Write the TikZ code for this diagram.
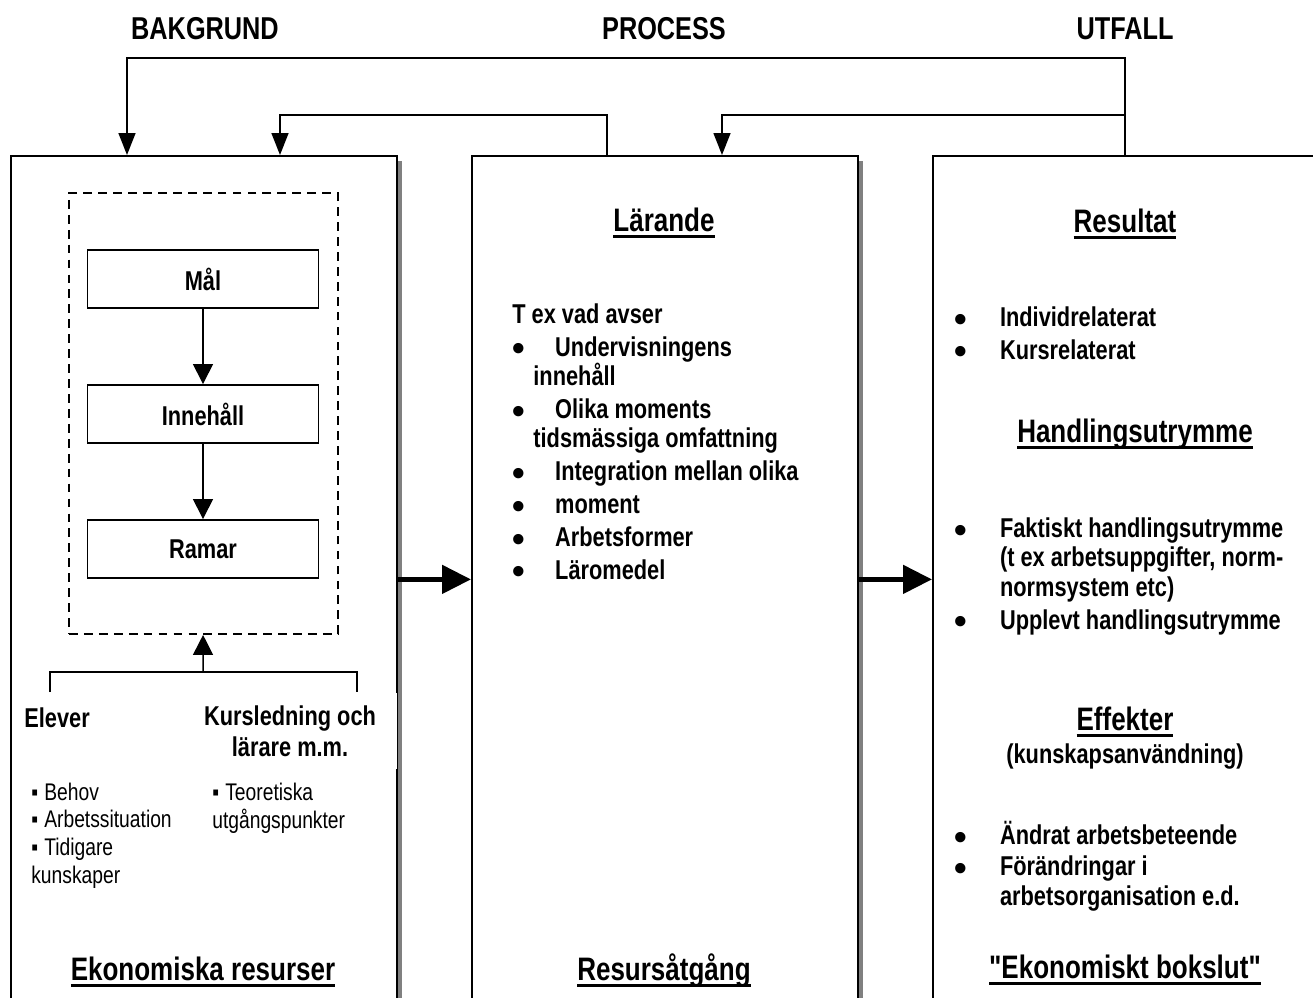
\documentclass[tikz,border=0pt]{standalone}
\usepackage{fontspec}
\setmainfont{Liberation Sans}[FakeStretch=0.8, Ligatures=TeXOff]
\newfontfamily\bulfont{Liberation Sans}
\usepackage{tikz}
\usetikzlibrary{arrows.meta,positioning,shadows}

\newcommand{\blt}[1]{\makebox[#1][l]{\raisebox{-2.8pt}{\bulfont\fontsize{20.5}{20}\selectfont•}}}
\newcommand{\sqb}{\makebox[7.4pt][l]{▪}}
\newcommand{\undl}[1]{\setbox0=\hbox{#1}\rlap{\copy0}\rule[-4pt]{\wd0}{2pt}}

\begin{document}
\begin{tikzpicture}[
  x=0.02cm, y=-0.02cm,
  bigbox/.style={rectangle, draw, line width=1.1pt, fill=white, anchor=north west,
    minimum width=7.72cm, minimum height=16.94cm, inner sep=0pt,
    drop shadow={shadow xshift=0.11cm, shadow yshift=-0.11cm, fill=black!50, opacity=1}},
  stepbox/.style={rectangle, draw, line width=1.1pt, minimum width=4.62cm,
    minimum height=1.16cm, font=\bfseries\fontsize{15.5}{17}\selectfont},
  frame/.style={rectangle, draw, line width=1.1pt, dash pattern=on 5pt off 3.5pt,
    minimum width=5.38cm, minimum height=8.82cm},
  txt/.style={font=\bfseries\fontsize{15.5}{16.7}\selectfont, align=left,
    anchor=base west, inner sep=0pt},
  smalltxt/.style={font=\fontsize{13.7}{15.7}\selectfont, align=left,
    anchor=base west, inner sep=0pt},
  head/.style={font=\bfseries\fontsize{18.5}{20}\selectfont, anchor=base, inner sep=0pt},
  colhead/.style={font=\bfseries\fontsize{18}{20}\selectfont, anchor=base, inner sep=0pt},
  fb/.style={line width=0.85pt, -{Triangle[length=0.44cm, width=0.34cm]}},
  flow/.style={line width=0.85pt, -{Triangle[length=0.4cm, width=0.4cm]}},
  bigarr/.style={line width=2.8pt, -{Triangle[length=0.58cm, width=0.56cm]}}
]
  \useasboundingbox (0,0) rectangle (1313,998);

  % the three columns
  \node[bigbox] (B1) at (10,155) {};
  \node[bigbox] (B2) at (471,155) {};
  \node[bigbox, minimum width=7.76cm] (B3) at (932,155) {};

  \node[colhead] (bak) at (205,39) {BAKGRUND};
  \node[colhead] (proc) at (664,39) {PROCESS};
  \node[colhead] (utf) at (1125,39) {UTFALL};

  % feedback lines
  \coordinate (lvA) at (0,58);
  \coordinate (lvB) at (0,115);
  \coordinate (u1) at (1125,155);
  \coordinate (p1) at (607,155);
  \coordinate (b1) at (127,155);
  \coordinate (b2) at (280,155);
  \coordinate (p2) at (722,155);
  \draw[fb] (u1) -- (u1 |- lvA) -| (b1);
  \draw[fb] (p1) -- (p1 |- lvB) -| (b2);
  \draw[fb] (u1 |- lvB) -| (p2);

  \draw[bigarr] (B1.east) -- (B2.west);
  \draw[bigarr] (B2.east) -- (B3.west);

  % bakgrund
  \node[frame] (ramverk) at (203.5,413.5) {};
  \node[stepbox] (mal) at (203,279) {Mål};
  \node[stepbox] (inneh) at (203,414) {Innehåll};
  \node[stepbox] (ramar) at (203,549) {Ramar};
  \draw[flow] (mal) -- (inneh);
  \draw[flow] (inneh) -- (ramar);

  \coordinate (elv) at (50,692);
  \coordinate (krs) at (357,692);
  \coordinate (brm) at (203,672);
  \draw[line width=0.85pt] (elv) |- (brm) -| (krs);
  \draw[flow] (brm) -- (ramverk);

  \node[txt] (elever) at (24,727) {Elever};
  \node[fill=white, align=center, inner sep=0pt, minimum width=4.28cm, minimum height=1.52cm,
    font=\bfseries\fontsize{15.5}{17.5}\selectfont] (kursl) at (290,731) {Kursledning och\\lärare m.m.};
  \node[smalltxt] (elevlist) at (31,883) {\sqb Behov\\\sqb Arbetssituation\\\sqb Tidigare\\kunskaper};
  \node[smalltxt] (kurslist) at (212,828) {\sqb Teoretiska\\utgångspunkter};
  \node[head] (ekres) at (203,980) {\undl{Ekonomiska resurser}};

  % process
  \node[head] (lar) at (664,231) {\undl{Lärande}};
  \node[txt] (larlist) at (512,579) {T ex vad avser\\[2pt]
    \blt{24.4pt}Undervisningens\\
    \hspace*{12pt}innehåll\\[2pt]
    \blt{24.4pt}Olika moments\\
    \hspace*{12pt}tidsmässiga omfattning\\[2pt]
    \blt{24.4pt}Integration mellan olika\\[2pt]
    \blt{24.4pt}moment\\[2pt]
    \blt{24.4pt}Arbetsformer\\[2pt]
    \blt{24.4pt}Läromedel};
  \node[head] (resat) at (664,980) {\undl{Resursåtgång}};

  % utfall
  \node[head] (res) at (1125,232) {\undl{Resultat}};
  \node[txt] (reslist) at (954,359) {\blt{26pt}Individrelaterat\\[2pt]
    \blt{26pt}Kursrelaterat};
  \node[head] (handl) at (1135,442) {\undl{Handlingsutrymme}};
  \node[txt] (handlist) at (954,629) {\blt{26pt}Faktiskt handlingsutrymme\\
    \hspace*{26pt}(t ex arbetsuppgifter, norm-\\
    \hspace*{26pt}normsystem etc)\\[2pt]
    \blt{26pt}Upplevt handlingsutrymme};
  \node[head] (eff) at (1125,730) {\undl{Effekter}};
  \node[txt, anchor=base] (effsub) at (1125,763) {(kunskapsanvändning)};
  \node[txt] (efflist) at (954,905) {\blt{26pt}Ändrat arbetsbeteende\\[1pt]
    \blt{26pt}Förändringar i\\
    \hspace*{26pt}arbetsorganisation e.d.};
  \node[head] (boks) at (1125,978) {\undl{"Ekonomiskt bokslut"}};
\end{tikzpicture}
\end{document}
